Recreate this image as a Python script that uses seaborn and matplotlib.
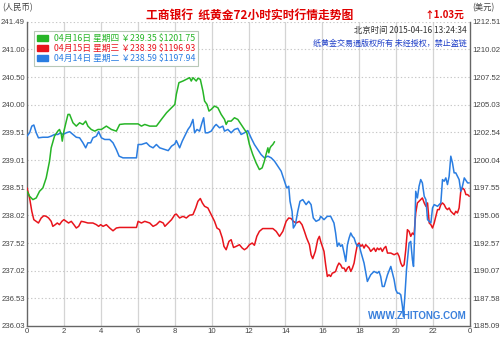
import matplotlib
matplotlib.use("Agg")
import matplotlib.pyplot as plt
from matplotlib.patches import Patch
import seaborn as sns

# ---------------- data ----------------
hours_0416 = [0.0, 0.14, 0.32, 0.50, 0.68, 0.86, 1.04, 1.22, 1.31, 1.49, 1.67, 1.76, 1.86, 1.91, 2.0,
              2.13, 2.22, 2.31, 2.49, 2.67, 2.85, 3.03, 3.18, 3.30, 3.48, 3.67, 3.85, 4.03, 4.30, 4.57,
              4.84, 5.02, 5.29, 6.02, 6.20, 6.38, 6.65, 7.01, 7.28, 7.56, 7.83, 8.01,
              8.09, 8.23, 8.45, 8.63, 8.81, 8.90, 8.99, 9.17, 9.26, 9.39, 9.53, 9.62, 9.75, 9.86, 9.98,
              10.16, 10.34, 10.52, 10.70, 10.79, 10.88, 11.06, 11.24, 11.42, 11.60, 11.78, 11.91, 12.05,
              12.23, 12.41, 12.59, 12.74, 12.86, 12.95, 13.05, 13.10, 13.17, 13.23, 13.32, 13.41]
cny_0416 = [238.45, 238.36, 238.30, 238.33, 238.45, 238.51, 238.69, 238.99, 239.23, 239.44, 239.53, 239.56,
            239.47, 239.35, 239.53, 239.71, 239.83, 239.83, 239.68, 239.62, 239.68, 239.65, 239.71, 239.62,
            239.56, 239.53, 239.56, 239.56, 239.62, 239.56, 239.53, 239.65, 239.66, 239.66, 239.62, 239.65,
            239.62, 239.62, 239.74, 239.86, 239.95, 240.01,
            240.19, 240.40, 240.43, 240.46, 240.49, 240.43, 240.49, 240.43, 240.48, 240.46, 240.25, 240.07,
            240.01, 239.89, 239.92, 239.98, 239.95, 239.83, 239.74, 239.65, 239.71, 239.71, 239.77, 239.74,
            239.65, 239.56, 239.50, 239.29, 239.11, 238.96, 238.84, 238.87, 238.99, 239.11, 239.23, 239.14,
            239.23, 239.26, 239.29, 239.34]

hours_0415 = [0.0, 0.14, 0.26, 0.37, 0.50, 0.62, 0.77, 0.91, 1.04, 1.17, 1.31, 1.40, 1.53, 1.64, 1.76, 1.89,
              2.00, 2.13, 2.25, 2.40, 2.54, 2.67, 2.80, 2.94, 3.09, 3.30, 3.57, 3.76, 3.88, 3.99, 4.12, 4.30,
              4.48, 4.66, 4.84, 5.02, 5.29, 5.93, 6.02, 6.20, 6.38, 6.65, 6.83, 7.01, 7.19, 7.38, 7.47, 7.65,
              7.83, 8.01,
              8.09, 8.27, 8.45, 8.63, 8.81, 8.99, 9.14, 9.26, 9.39, 9.50, 9.62, 9.80, 9.98, 10.16, 10.29,
              10.43, 10.58, 10.67, 10.79, 10.94, 11.06, 11.19, 11.33, 11.51, 11.66, 11.78, 11.91, 12.05,
              12.20, 12.32, 12.45, 12.59, 12.77, 13.05, 13.32, 13.50, 13.68, 13.86, 14.04, 14.18, 14.31,
              14.43, 14.58, 14.76, 14.90, 15.03, 15.15, 15.30, 15.39, 15.48, 15.62, 15.75, 15.84,
              15.91, 16.00, 16.09, 16.18, 16.27, 16.36, 16.45, 16.54, 16.63, 16.72, 16.81, 16.90, 16.99,
              17.08, 17.18, 17.27, 17.36, 17.45, 17.54, 17.63, 17.72, 17.81, 17.90, 17.99, 18.08, 18.17,
              18.26, 18.35, 18.44, 18.53, 18.62, 18.71, 18.80, 18.89, 18.98, 19.07, 19.16, 19.25, 19.35,
              19.44, 19.53, 19.71, 19.89, 20.07, 20.16, 20.25, 20.34, 20.43, 20.52, 20.61, 20.70, 20.79,
              20.88, 20.97, 21.06, 21.15, 21.24, 21.33, 21.42, 21.52, 21.61, 21.70, 21.79, 21.88, 21.97,
              22.06, 22.15, 22.24, 22.33, 22.42, 22.51, 22.60, 22.69, 22.78, 22.87, 22.96, 23.05, 23.14,
              23.23, 23.32, 23.41, 23.50, 23.59, 23.69, 23.78, 23.87, 23.96]
cny_0415 = [238.51, 238.33, 238.09, 237.94, 237.91, 237.88, 237.97, 238.01, 238.00, 237.97, 237.91, 237.82,
            237.85, 237.88, 237.85, 237.91, 237.94, 237.91, 237.88, 237.91, 237.85, 237.79, 237.82, 237.91,
            237.90, 237.88, 237.88, 237.85, 237.82, 237.85, 237.82, 237.85, 237.79, 237.74, 237.79, 237.80,
            237.80, 237.80, 237.91, 237.88, 237.91, 237.88, 237.82, 237.85, 237.91, 237.88, 237.82, 237.88,
            237.94, 238.03,
            238.04, 237.97, 238.00, 237.97, 238.02, 238.03, 238.15, 238.27, 238.32, 238.24, 238.18, 238.15,
            238.03, 237.91, 237.79, 237.76, 237.61, 237.46, 237.40, 237.55, 237.58, 237.44, 237.46, 237.49,
            237.43, 237.40, 237.43, 237.49, 237.52, 237.48, 237.64, 237.73, 237.78, 237.78, 237.78, 237.73,
            237.64, 237.73, 237.91, 237.97, 237.96, 237.91, 237.88, 237.91, 237.85, 237.73, 237.61, 237.49,
            237.31, 237.24, 237.37, 237.58, 237.64,
            237.55, 237.46, 237.37, 237.13, 236.92, 236.95, 236.92, 236.98, 236.99, 237.01, 237.10, 237.16,
            237.13, 237.07, 237.07, 237.01, 237.07, 237.10, 237.01, 237.07, 237.16, 237.34, 237.49, 237.52,
            237.46, 237.49, 237.43, 237.49, 237.46, 237.43, 237.37, 237.40, 237.43, 237.37, 237.43, 237.40,
            237.43, 237.37, 237.43, 237.46, 237.34, 237.34, 237.31, 237.34, 237.28, 237.16, 237.10, 237.13,
            237.40, 237.76, 237.73, 237.64, 237.70, 237.67, 238.06, 238.24, 238.27, 238.30, 238.33, 238.24,
            238.18, 238.24, 237.88, 237.85, 237.79, 237.88, 238.00, 238.12, 238.12, 238.21, 238.24, 238.21,
            238.15, 238.12, 238.15, 238.09, 238.06, 238.03, 238.09, 238.06, 238.15, 238.45, 238.51, 238.48,
            238.39, 238.39, 238.36]

hours_0414 = [0.0, 0.14, 0.26, 0.37, 0.50, 0.62, 0.86, 1.13, 1.31, 1.49, 1.67, 1.82, 1.95, 2.13, 2.31, 2.49,
              2.67, 2.85, 3.03, 3.18, 3.30, 3.45, 3.57, 3.76, 3.88, 4.03, 4.21, 4.48, 4.66, 4.84, 4.99, 5.20,
              5.93, 6.02, 6.20, 6.47, 6.65, 6.83, 7.01, 7.19, 7.47, 7.65, 7.83, 8.01,
              8.09, 8.27, 8.41, 8.54, 8.72, 8.85, 8.99, 9.08, 9.21, 9.35, 9.48, 9.57, 9.66, 9.80, 9.98,
              10.16, 10.25, 10.43, 10.61, 10.70, 10.88, 11.06, 11.24, 11.42, 11.60, 11.78, 11.96, 12.14,
              12.32, 12.50, 12.68, 12.86, 13.05, 13.23, 13.41, 13.59, 13.77, 13.95, 14.07, 14.18, 14.25,
              14.36, 14.43, 14.54, 14.67, 14.79, 14.94, 15.12, 15.26, 15.39, 15.51, 15.66, 15.84,
              15.91, 16.09, 16.27, 16.45, 16.54, 16.63, 16.72, 16.81, 16.90, 16.99, 17.08, 17.18, 17.27,
              17.36, 17.45, 17.54, 17.63, 17.72, 17.81, 17.90, 17.99, 18.08, 18.26, 18.44, 18.62, 18.80,
              18.98, 19.07, 19.16, 19.25, 19.35, 19.53, 19.71, 19.80, 19.89, 19.98, 20.07, 20.16, 20.25,
              20.34, 20.39, 20.47, 20.56, 20.70, 20.79, 20.88, 20.94, 21.01, 21.06, 21.15, 21.24, 21.33,
              21.42, 21.52, 21.61, 21.70, 21.79, 21.88, 21.97, 22.06, 22.24, 22.42, 22.51, 22.60, 22.69,
              22.78, 22.87, 22.96, 23.05, 23.14, 23.23, 23.32, 23.41, 23.50, 23.59, 23.69, 23.87, 23.96]
cny_0414 = [239.44, 239.50, 239.62, 239.64, 239.50, 239.41, 239.42, 239.42, 239.44, 239.47, 239.47, 239.50,
            239.47, 239.50, 239.52, 239.47, 239.42, 239.41, 239.32, 239.23, 239.32, 239.32, 239.41, 239.44,
            239.52, 239.41, 239.38, 239.38, 239.32, 239.20, 239.08, 239.05, 239.05, 239.29, 239.29, 239.32,
            239.26, 239.23, 239.29, 239.23, 239.20, 239.18, 239.26, 239.30,
            239.36, 239.23, 239.35, 239.44, 239.56, 239.62, 239.74, 239.50, 239.56, 239.53, 239.68, 239.77,
            239.50, 239.50, 239.53, 239.62, 239.65, 239.59, 239.62, 239.53, 239.56, 239.50, 239.56, 239.58,
            239.47, 239.50, 239.54, 239.41, 239.29, 239.20, 239.11, 239.05, 239.08, 239.05, 238.99, 238.90,
            238.81, 238.63, 238.51, 238.54, 238.27, 238.09, 237.79, 237.85, 238.09, 238.27, 238.30, 238.21,
            238.27, 238.21, 237.97, 237.91, 237.94,
            238.00, 237.94, 238.00, 238.00, 237.94, 237.88, 237.70, 237.46, 237.52, 237.46, 237.49, 237.34,
            237.19, 237.49, 237.61, 237.70, 237.64, 237.61, 237.52, 237.46, 237.49, 237.37, 237.16, 236.83,
            236.95, 237.01, 236.98, 237.01, 236.92, 236.74, 236.74, 236.95, 237.10, 236.98, 236.86, 236.68,
            236.62, 236.62, 236.59, 236.38, 236.20, 236.56, 237.04, 237.52, 237.55, 237.22, 237.10, 237.76,
            238.45, 238.33, 238.54, 238.66, 238.60, 238.36, 238.30, 237.94, 237.91, 237.88, 238.15, 238.21,
            238.18, 238.24, 238.66, 238.63, 238.69, 238.57, 238.72, 239.08, 238.96, 238.78, 238.78, 238.72,
            238.66, 238.45, 238.54, 238.69, 238.60, 238.60]

legend_labels = ["04月16日 星期四 ￥239.35 $1201.75",
                 "04月15日 星期三 ￥238.39 $1196.93",
                 "04月14日 星期二 ￥238.59 $1197.94"]
left_ticks = [236.03, 236.53, 237.02, 237.52, 238.02, 238.51, 239.01, 239.51, 240.00, 240.50, 241.00, 241.49]
right_ticks = [1185.09, 1187.58, 1190.07, 1192.57, 1195.06, 1197.55, 1200.04, 1202.54, 1205.03, 1207.52,
               1210.02, 1212.51]
x_ticks = [0, 2, 4, 6, 8, 10, 12, 14, 16, 18, 20, 22, 24]
x_labels = ["0", "2", "4", "6", "8", "10", "12", "14", "16", "18", "20", "22", "0"]

# ---------------- style ----------------
sns.set_style("white")
CJK = ["Noto Sans CJK SC", "DejaVu Sans"]
NUM = ["Liberation Sans", "DejaVu Sans"]
GREEN, RED, BLUE = "#26b526", "#e8141c", "#2a7de1"

W, H = 500, 338
fig = plt.figure(figsize=(W / 100, H / 100), dpi=100)
ax = fig.add_axes([27 / W, 12 / H, 443 / W, 304 / H])

ax.set_xlim(0, 24)
ax.set_ylim(left_ticks[0], left_ticks[-1])

# grid
for xv in x_ticks[1:-1]:
    ax.axvline(xv, color="#d4d4d4", lw=0.9, zorder=0)
for yv in left_ticks[1:]:
    ax.axhline(yv, color="#c8c8c8", lw=0.8, ls=(0, (1.2, 2.0)), zorder=0)

sns.lineplot(x=hours_0415, y=cny_0415, color=RED, lw=1.1, ax=ax, zorder=3)
sns.lineplot(x=hours_0414, y=cny_0414, color=BLUE, lw=1.1, ax=ax, zorder=4)
sns.lineplot(x=hours_0416, y=cny_0416, color=GREEN, lw=1.1, ax=ax, zorder=5)

ax.set_xticks(x_ticks)
ax.set_xticklabels(x_labels)
ax.set_yticks(left_ticks)
ax.set_yticklabels([f"{v:.2f}" for v in left_ticks])
ax.tick_params(length=0, pad=1.5, labelsize=5.6, colors="#444444")
for lab in ax.get_xticklabels() + ax.get_yticklabels():
    lab.set_family(NUM)
ax.set_xlabel("")
ax.set_ylabel("")

ax2 = ax.twinx()
ax2.set_ylim(right_ticks[0], right_ticks[-1])
ax2.set_yticks(right_ticks)
ax2.set_yticklabels([f"{v:.2f}" for v in right_ticks])
ax2.tick_params(length=0, pad=1.5, labelsize=5.6, colors="#444444")
for lab in ax2.get_yticklabels():
    lab.set_family(NUM)

for a in (ax, ax2):
    a.spines["top"].set_visible(False)
ax.spines["right"].set_visible(False)
ax2.spines["left"].set_visible(False)
ax2.spines["bottom"].set_visible(False)
for s in ("left", "bottom"):
    ax.spines[s].set_color("#666666")
    ax.spines[s].set_linewidth(1.0)
ax2.spines["right"].set_color("#666666")
ax2.spines["right"].set_linewidth(1.0)

# legend
handles = [Patch(facecolor=c, edgecolor=c) for c in (GREEN, RED, BLUE)]
leg = ax2.legend(handles, legend_labels, loc="upper left", bbox_to_anchor=(0.006, 0.985),
                 prop={"family": CJK, "size": 6.3}, labelcolor=[GREEN, RED, BLUE],
                 handlelength=1.3, handleheight=0.55, handletextpad=0.6, labelspacing=0.12,
                 borderpad=0.35, fancybox=False, framealpha=1, edgecolor="#b8c8b8")
leg.get_frame().set_linewidth(0.8)
leg.set_zorder(10)


def fx(x):
    return x / W


def fy(y):
    return 1 - y / H


fig.text(fx(250), fy(15), "工商银行  纸黄金72小时实时行情走势图", color="#e00000", fontsize=8.5,
         fontweight="bold", ha="center", va="center", family=CJK)
fig.text(fx(464), fy(15), "↑1.03元", color="#e00000", fontsize=7, fontweight="bold",
         ha="right", va="center", family=CJK)
fig.text(fx(2), fy(8), "(人民币)", color="#444444", fontsize=6, ha="left", va="center", family=CJK)
fig.text(fx(472), fy(8), "(美元)", color="#444444", fontsize=6, ha="left", va="center", family=CJK)
fig.text(fx(467), fy(31), "北京时间 2015-04-16 13:24:34", color="#333333", fontsize=6,
         ha="right", va="center", family=CJK)
fig.text(fx(467), fy(43), "纸黄金交易通版权所有 未经授权，禁止盗链", color="#2040c8", fontsize=5.8,
         ha="right", va="center", family=CJK)
fig.text(fx(467), fy(316), "WWW.ZHITONG.COM", color="#3a80dc", fontsize=7, fontweight="bold",
         ha="right", va="center", family=["Liberation Sans", "DejaVu Sans"], zorder=20)

fig.savefig("out.png", dpi=100)
